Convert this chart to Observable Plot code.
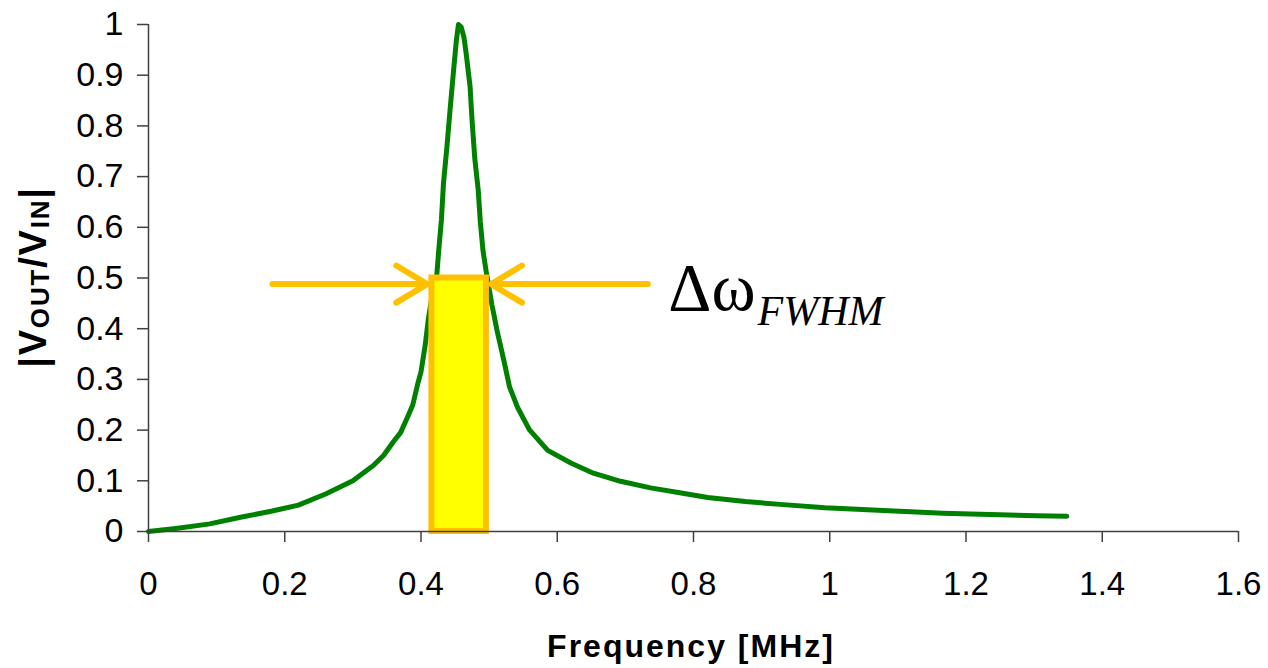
<!DOCTYPE html>
<html><head><meta charset="utf-8">
<script src="https://cdn.jsdelivr.net/npm/d3@7"></script>
<script src="https://cdn.jsdelivr.net/npm/@observablehq/plot@0.6"></script>
<style>
body{margin:0;background:#fff;}
#chart svg{display:block;}
</style></head><body><div id="chart"></div>
<script>
// Frequency response
const freq = [0, 0.04, 0.09, 0.135, 0.18, 0.22, 0.26, 0.30, 0.33, 0.345, 0.36, 0.37, 0.38, 0.388, 0.395, 0.40, 0.406, 0.411, 0.417, 0.423, 0.426, 0.430, 0.433, 0.438, 0.443, 0.448, 0.452, 0.455, 0.459, 0.463, 0.466, 0.472, 0.475, 0.479, 0.484, 0.487, 0.491, 0.496, 0.504, 0.512, 0.522, 0.530, 0.542, 0.559, 0.586, 0.620, 0.653, 0.693, 0.737, 0.782, 0.821, 0.876, 0.932, 0.993, 1.071, 1.166, 1.305, 1.348];
const gain = [0.000, 0.006, 0.015, 0.028, 0.040, 0.052, 0.074, 0.100, 0.130, 0.150, 0.178, 0.195, 0.225, 0.250, 0.290, 0.315, 0.366, 0.421, 0.470, 0.503, 0.554, 0.615, 0.687, 0.758, 0.837, 0.912, 0.970, 1.000, 0.995, 0.975, 0.946, 0.878, 0.810, 0.735, 0.673, 0.612, 0.554, 0.510, 0.448, 0.394, 0.335, 0.285, 0.244, 0.201, 0.160, 0.135, 0.115, 0.099, 0.086, 0.076, 0.067, 0.059, 0.053, 0.047, 0.042, 0.036, 0.031, 0.030];

const xTicks = [0, 0.2, 0.4, 0.6, 0.8, 1, 1.2, 1.4, 1.6];
const yTicks = [0, 0.1, 0.2, 0.3, 0.4, 0.5, 0.6, 0.7, 0.8, 0.9, 1];

// FWHM band and arrows (data units)
const bandX = [0.416, 0.496];
const bandY = [0, 0.5];
const arrowY = [0.488];
const arrowLeftX = [0.182, 0.409];
const arrowRightX = [0.733, 0.503];
const labelMain = ["Δω"];
const labelMainPos = [0.763, 0.436];
const labelSub = ["FWHM"];
const labelSubPos = [0.894, 0.408];

const xTitle = "Frequency [MHz]";

const curve = freq.map((f, i) => ({f, g: gain[i]}));
const AX = "#404040";
const FONT = "'Liberation Sans', Arial, sans-serif";

const plot = Plot.plot({
  width: 1268,
  height: 668,
  marginLeft: 148,
  marginRight: 30,
  marginTop: 24,
  marginBottom: 137,
  style: {fontFamily: FONT, fontSize: "33px", color: "#000", background: "#fff"},
  x: {domain: [0, 1.6]},
  y: {domain: [0, 1]},
  marks: [
    Plot.line(curve, {x: "f", y: "g", stroke: "#008000", strokeWidth: 5, strokeLinejoin: "round"}),
    Plot.rect([0], {x1: () => bandX[0], x2: () => bandX[1], y1: () => bandY[0], y2: () => bandY[1], fill: "#FFFF00", stroke: "#FFC000", strokeWidth: 6}),
    Plot.arrow([0], {x1: () => arrowLeftX[0], x2: () => arrowLeftX[1], y1: () => arrowY[0], y2: () => arrowY[0], stroke: "#FFC000", strokeWidth: 6, headLength: 9, headAngle: 62, strokeLinecap: "round", strokeLinejoin: "round"}),
    Plot.arrow([0], {x1: () => arrowRightX[0], x2: () => arrowRightX[1], y1: () => arrowY[0], y2: () => arrowY[0], stroke: "#FFC000", strokeWidth: 6, headLength: 9, headAngle: 62, strokeLinecap: "round", strokeLinejoin: "round"}),
    Plot.text(labelMain, {x: () => labelMainPos[0], y: () => labelMainPos[1], text: d => d, textAnchor: "start", lineAnchor: "bottom", fontFamily: "'Liberation Serif', 'DejaVu Serif', serif", fontSize: 67, fill: "#000"}),
    Plot.text(labelSub, {x: () => labelSubPos[0], y: () => labelSubPos[1], text: d => d, textAnchor: "start", lineAnchor: "bottom", fontFamily: "'Liberation Serif', 'DejaVu Serif', serif", fontStyle: "italic", fontSize: 42, fill: "#000"}),
    Plot.ruleX([0], {y1: 0, y2: 1, stroke: AX, strokeWidth: 1.5}),
    Plot.ruleY([0], {x1: 0, x2: 1.6, stroke: AX, strokeWidth: 1.5}),
    Plot.axisX({ticks: xTicks, tickFormat: d => String(d), tickSize: 11, tickPadding: 29, label: null, stroke: AX, strokeWidth: 1.5, fontSize: 33}),
    Plot.axisY({ticks: yTicks, tickFormat: d => String(d), tickSize: 11, tickPadding: 14, label: null, stroke: AX, strokeWidth: 1.5, fontSize: 34})
  ]
});

document.getElementById("chart").appendChild(plot);

const svg = d3.select(plot);
// x-axis title
svg.append("text")
  .attr("x", 691).attr("y", 657)
  .attr("text-anchor", "middle")
  .attr("font-family", FONT).attr("font-weight", "bold")
  .attr("font-size", 32).attr("letter-spacing", 2)
  .attr("fill", "#000")
  .text(xTitle);

// y-axis title with subscripts
const yt = svg.append("text")
  .attr("transform", "translate(46,277) rotate(-90)")
  .attr("text-anchor", "middle")
  .attr("font-family", FONT).attr("font-weight", "bold")
  .attr("letter-spacing", 1.8)
  .attr("fill", "#000");
const parts = [["|V", 38, 0], ["OUT", 26, 3], ["/V", 38, -3], ["IN", 26, 3], ["|", 38, -3]];
parts.forEach(([t, s, dy]) => yt.append("tspan").attr("font-size", s).attr("dy", dy).text(t));
</script>
</body></html>
